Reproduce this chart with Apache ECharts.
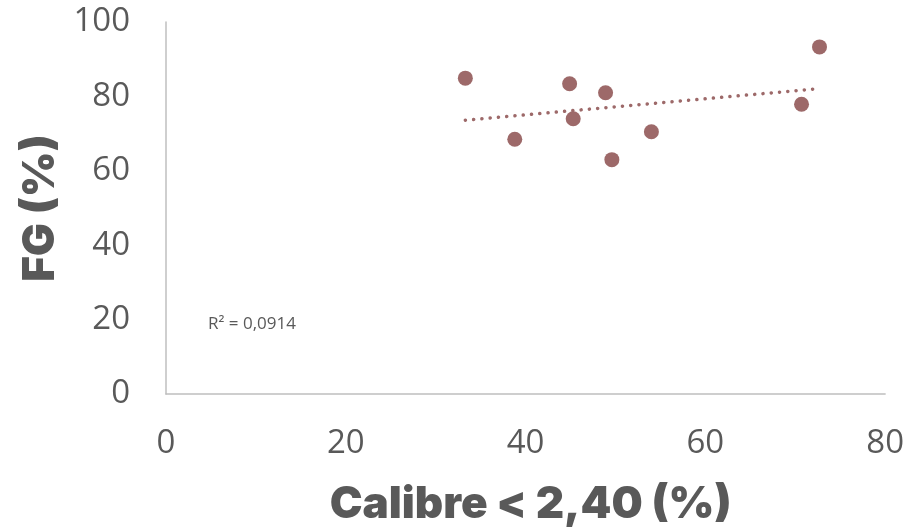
<!DOCTYPE html>
<html>
<head>
<meta charset="utf-8">
<script src="https://cdn.jsdelivr.net/npm/echarts@6/dist/echarts.min.js"></script>
<style>html,body{margin:0;padding:0;background:#fff}#c{width:907px;height:532px}</style>
</head>
<body>
<div id="c"></div>
<script>
// Data
const calibre = [33.3, 38.8, 44.9, 45.3, 48.9, 49.6, 54.0, 70.7, 72.7];
const fg = [84.9, 68.5, 83.4, 74.0, 81.0, 63.0, 70.5, 77.9, 93.3];
const trendX = [33.3, 72.7];
const trendY = [73.6, 82.1];
const xTicks = [0, 20, 40, 60, 80];
const yTicks = [0, 20, 40, 60, 80, 100];
const r2Label = 'R² = 0,0914';
const xTitle = 'Calibre < 2,40 (%)';
const yTitle = 'FG (%)';

const points = calibre.map((x, i) => [x, fg[i]]);
const trend = trendX.map((x, i) => [x, trendY[i]]);
const pointColor = '#9D6969';
const tickFont = { fontFamily: 'Open Sans', fontSize: 33, color: '#595959' };
const titleFont = { fontFamily: 'Inter', fontWeight: 900, fontSize: 44, color: '#595959' };

const chart = echarts.init(document.getElementById('c'), null, { renderer: 'canvas' });
chart.setOption({
  animation: false,
  backgroundColor: '#ffffff',
  grid: { left: 166, right: 21, top: 22, bottom: 135 },
  xAxis: {
    type: 'value', min: xTicks[0], max: xTicks[xTicks.length - 1], interval: 20,
    axisLine: { show: true, lineStyle: { color: '#BFBFBF', width: 1.5 } },
    axisTick: { show: false }, splitLine: { show: false },
    axisLabel: Object.assign({ margin: 33 }, tickFont),
    name: xTitle, nameLocation: 'middle', nameGap: 89,
    nameTextStyle: Object.assign({ padding: [0, 0, 0, 10] }, titleFont)
  },
  yAxis: {
    type: 'value', min: yTicks[0], max: yTicks[yTicks.length - 1], interval: 20,
    axisLine: { show: true, lineStyle: { color: '#BFBFBF', width: 1.5 } },
    axisTick: { show: false }, splitLine: { show: false },
    axisLabel: Object.assign({ margin: 36 }, tickFont),
    name: yTitle, nameLocation: 'middle', nameGap: 100, nameRotate: 90,
    nameTextStyle: titleFont
  },
  series: [
    {
      type: 'line', data: trend, symbol: 'none', silent: true,
      lineStyle: { color: pointColor, width: 3.5, type: [0.1, 8.2], cap: 'round' }, z: 1
    },
    {
      type: 'scatter', data: points, symbol: 'circle', symbolSize: 15,
      itemStyle: { color: pointColor, opacity: 1 }, z: 2
    }
  ],
  graphic: [{
    type: 'text', left: 208, top: 316,
    style: { text: r2Label, fontFamily: 'Open Sans', fontSize: 17, fill: '#595959' }
  }]
});
</script>
</body>
</html>
